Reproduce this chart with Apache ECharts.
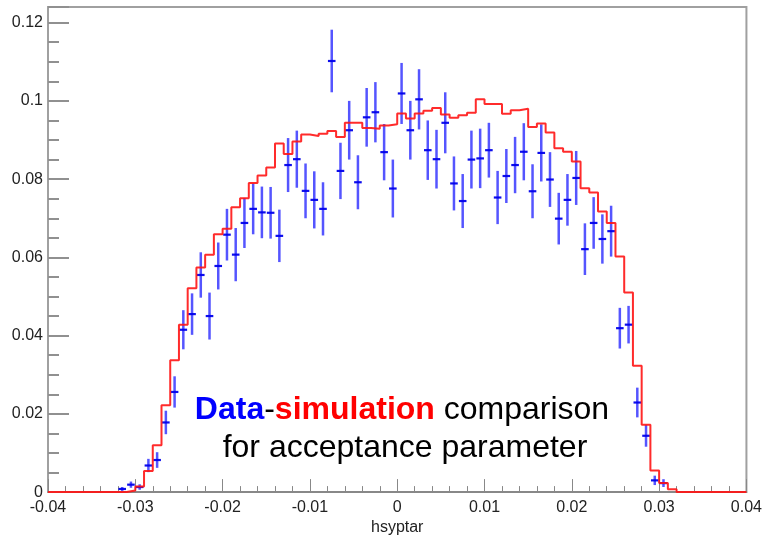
<!DOCTYPE html>
<html>
<head>
<meta charset="utf-8">
<script src="https://cdn.jsdelivr.net/npm/echarts@6/dist/echarts.min.js"></script>
<style>
html,body{margin:0;padding:0;background:#fff;}
#chart{width:765px;height:541px;}
</style>
</head>
<body>
<div id="chart"></div>
<script>
// ---- data ----
const binStart = -0.04;
const binWidth = 0.001;
// simulation histogram, 80 bins from -0.04 to 0.04
const simValues = [
  0, 0, 0, 0, 0, 0, 0, 0,
  0, 0.0004, 0.0014, 0.0054, 0.0120, 0.0222, 0.0337, 0.0428, 0.0521, 0.0574,
  0.0607, 0.0659, 0.0673, 0.0728, 0.0751, 0.0790, 0.0809, 0.0830, 0.0891, 0.0864,
  0.0896, 0.0914, 0.0910, 0.0916, 0.0923, 0.0908, 0.0944, 0.0944, 0.0931, 0.0929,
  0.0937, 0.0940, 0.0968, 0.0955, 0.0968, 0.0975, 0.0982, 0.0965, 0.0957, 0.0963,
  0.0970, 0.1004, 0.0992, 0.0992, 0.0967, 0.0976, 0.0980, 0.0933, 0.0942, 0.0919,
  0.0879, 0.0870, 0.0845, 0.0777, 0.0766, 0.0717, 0.0688, 0.0602, 0.0510, 0.0323,
  0.0172, 0.0055, 0.0023, 0.0007, 0, 0, 0, 0, 0, 0, 0, 0
];
// measured data, bins 8..70
const dataFirstBin = 8;
const dataValues = [
  0.0008, 0.0019, 0.0013, 0.0068, 0.0082, 0.0178, 0.0256, 0.0415, 0.0455, 0.0555,
  0.0450, 0.0578, 0.0658, 0.0607, 0.0688, 0.0724, 0.0715, 0.0714, 0.0655, 0.0836,
  0.0851, 0.0770, 0.0747, 0.0724, 0.1102, 0.0821, 0.0925, 0.0792, 0.0958, 0.0971,
  0.0869, 0.0776, 0.1019, 0.0925, 0.1004, 0.0874, 0.0851, 0.0944, 0.0789, 0.0744,
  0.0850, 0.0853, 0.0874, 0.0753, 0.0808, 0.0836, 0.0870, 0.0769, 0.0867, 0.0799,
  0.0699, 0.0747, 0.0803, 0.0621, 0.0688, 0.0647, 0.0667, 0.0419, 0.0428, 0.0229,
  0.0144, 0.0030, 0.0023
];
const dataErrors = [
  0.0005, 0.0008, 0.0007, 0.0017, 0.0020, 0.0030, 0.0040, 0.0050, 0.0053, 0.0058,
  0.0060, 0.0060, 0.0066, 0.0068, 0.0064, 0.0065, 0.0066, 0.0066, 0.0067, 0.0069,
  0.0073, 0.0070, 0.0073, 0.0068, 0.0080, 0.0072, 0.0075, 0.0069, 0.0075, 0.0077,
  0.0072, 0.0074, 0.0078, 0.0075, 0.0077, 0.0076, 0.0075, 0.0078, 0.0069, 0.0069,
  0.0074, 0.0076, 0.0070, 0.0068, 0.0069, 0.0072, 0.0073, 0.0069, 0.0073, 0.0070,
  0.0066, 0.0066, 0.0069, 0.0066, 0.0066, 0.0063, 0.0065, 0.0052, 0.0048, 0.0038,
  0.0028, 0.0012, 0.0010
];
const xTickLabels = ['-0.04', '-0.03', '-0.02', '-0.01', '0', '0.01', '0.02', '0.03', '0.04'];
const yTickLabels = ['0', '0.02', '0.04', '0.06', '0.08', '0.1', '0.12'];

// ---- build series data ----
const simPoints = simValues.map((v, i) => [binStart + i * binWidth, v]);
simPoints.push([binStart + simValues.length * binWidth, simValues[simValues.length - 1]]);
const dataPoints = dataValues.map((v, i) => [binStart + (dataFirstBin + i + 0.5) * binWidth, v, dataErrors[i]]);

const FONT = "'Liberation Sans', Arial, sans-serif";
const chart = echarts.init(document.getElementById('chart'), null, {renderer: 'canvas'});

chart.setOption({
  animation: false,
  backgroundColor: '#fff',
  grid: {left: 48, top: 7, right: 15, bottom: 46, show: true, borderColor: '#a0a0a0', borderWidth: 2, backgroundColor: 'transparent'},
  xAxis: {
    type: 'value', min: -0.04, max: 0.04, interval: 0.01,
    name: 'hsyptar', nameLocation: 'middle', nameGap: 23,
    nameTextStyle: {fontFamily: FONT, fontSize: 16, color: '#222'},
    axisLine: {show: true, onZero: false, lineStyle: {color: '#808080', width: 1.5}},
    axisTick: {show: true, inside: true, length: 13, lineStyle: {color: '#888', width: 1}},
    minorTick: {show: true, splitNumber: 5, length: 6, lineStyle: {color: '#888', width: 1}},
    splitLine: {show: false},
    axisLabel: {
      fontFamily: FONT, fontSize: 16, color: '#222', margin: 7,
      showMinLabel: true, showMaxLabel: true,
      formatter: v => xTickLabels[Math.round((v + 0.04) / 0.01)] ?? ''
    }
  },
  yAxis: {
    type: 'value', min: 0, max: 0.124, interval: 0.02,
    axisLine: {show: true, onZero: false, lineStyle: {color: '#a0a0a0', width: 2}},
    axisTick: {show: true, inside: true, length: 21, lineStyle: {color: '#909090', width: 2}},
    minorTick: {show: true, splitNumber: 4, length: 11, lineStyle: {color: '#909090', width: 2}},
    splitLine: {show: false},
    axisLabel: {
      fontFamily: FONT, fontSize: 16, color: '#222', margin: 5,
      showMaxLabel: false,
      formatter: v => {
        const idx = Math.round(v / 0.02);
        return Math.abs(v - idx * 0.02) < 1e-6 ? (yTickLabels[idx] ?? '') : '';
      }
    }
  },
  series: [
    {
      type: 'custom',
      data: dataPoints,
      encode: {x: 0, y: 1},
      clip: true,
      z: 2,
      renderItem: function (params, api) {
        const x = api.value(0), y = api.value(1), e = api.value(2);
        const c = api.coord([x, y]);
        const top = api.coord([x, y + e]);
        const bot = api.coord([x, Math.max(0, y - e)]);
        return {
          type: 'group',
          children: [
            {type: 'line', shape: {x1: c[0], y1: top[1], x2: c[0], y2: bot[1]},
             style: {stroke: 'rgba(20,20,255,0.72)', lineWidth: 2.5}},
            {type: 'line', shape: {x1: c[0] - 3.8, y1: c[1], x2: c[0] + 3.8, y2: c[1]},
             style: {stroke: 'rgba(0,0,235,0.95)', lineWidth: 2.2}}
          ]
        };
      }
    },
    {
      type: 'line',
      data: simPoints,
      step: 'end',
      symbol: 'none',
      z: 3,
      lineStyle: {color: 'rgba(255,20,20,0.9)', width: 2}
    }
  ],
  graphic: [
    {
      type: 'text', x: 402, y: 410, z: 10,
      style: {
        text: '{b|Data}-{r|simulation} comparison',
        align: 'center', verticalAlign: 'middle',
        fontFamily: FONT, fontSize: 32, fill: '#000',
        rich: {
          b: {fontFamily: FONT, fontSize: 32, fontWeight: 'bold', fill: '#0000ff', color: '#0000ff'},
          r: {fontFamily: FONT, fontSize: 32, fontWeight: 'bold', fill: '#ff0000', color: '#ff0000'}
        }
      }
    },
    {
      type: 'text', x: 405, y: 448, z: 10,
      style: {
        text: 'for acceptance parameter',
        align: 'center', verticalAlign: 'middle',
        fontFamily: FONT, fontSize: 32, fill: '#000'
      }
    }
  ]
});
</script>
</body>
</html>
